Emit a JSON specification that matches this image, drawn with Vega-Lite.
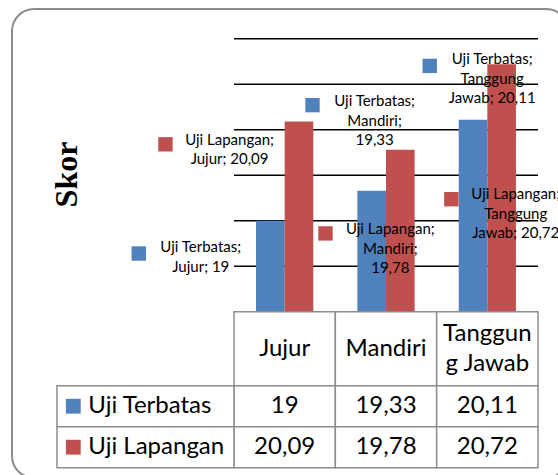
{
  "$schema": "https://vega.github.io/schema/vega-lite/v6.json",
  "width": 556,
  "height": 469,
  "autosize": {"type": "none"},
  "padding": {"left": 12, "top": 9, "right": 0, "bottom": 0},
  "background": "white",
  "config": {
    "view": {"stroke": "#8c8c8c", "strokeWidth": 2, "cornerRadius": 22, "fill": "white"},
    "locale": {"number": {"decimal": ",", "thousands": ".", "grouping": [3], "currency": ["", ""]}},
    "text": {"font": "Lato", "color": "#000000"}
  },
  "datasets": {
    "skor": [
      {"kategori": "Jujur", "seri": "Uji Terbatas", "nilai": 19, "label": "Uji Terbatas;\nJujur; 19"},
      {"kategori": "Jujur", "seri": "Uji Lapangan", "nilai": 20.09, "label": "Uji Lapangan;\nJujur; 20,09"},
      {"kategori": "Mandiri", "seri": "Uji Terbatas", "nilai": 19.33, "label": "Uji Terbatas;\nMandiri;\n19,33"},
      {"kategori": "Mandiri", "seri": "Uji Lapangan", "nilai": 19.78, "label": "Uji Lapangan;\nMandiri;\n19,78"},
      {"kategori": "Tanggung Jawab", "seri": "Uji Terbatas", "nilai": 20.11, "label": "Uji Terbatas;\nTanggung\nJawab; 20,11"},
      {"kategori": "Tanggung Jawab", "seri": "Uji Lapangan", "nilai": 20.72, "label": "Uji Lapangan;\nTanggung\nJawab; 20,72"}
    ],
    "kolom": [
      {"kategori": "Jujur", "judul": "Jujur"},
      {"kategori": "Mandiri", "judul": "Mandiri"},
      {"kategori": "Tanggung Jawab", "judul": "Tanggun\ng Jawab"}
    ],
    "grid": [{"g": 18.5}, {"g": 19}, {"g": 19.5}, {"g": 20}, {"g": 20.5}, {"g": 21}]
  },
  "resolve": {"scale": {"x": "independent", "y": "independent"}},
  "layer": [
    {
      "data": {"name": "grid"},
      "mark": {"type": "rule", "color": "#000000", "strokeWidth": 1.6},
      "encoding": {
        "y": {"field": "g", "type": "quantitative", "axis": null,
              "scale": {"domain": [18, 21], "range": [302.7, 29.7], "nice": false, "zero": false}},
        "x": {"datum": "Jujur", "type": "nominal", "bandPosition": 0, "axis": null,
              "scale": {"domain": ["Jujur", "Mandiri", "Tanggung Jawab"], "range": [222, 526], "paddingInner": 0, "paddingOuter": 0}},
        "x2": {"datum": "Tanggung Jawab", "bandPosition": 1}
      }
    },
    {
      "data": {"name": "skor"},
      "mark": {"type": "bar"},
      "encoding": {
        "x": {"field": "kategori", "type": "nominal", "axis": null,
              "scale": {"domain": ["Jujur", "Mandiri", "Tanggung Jawab"], "range": [222, 526], "paddingInner": 0, "paddingOuter": 0}},
        "xOffset": {"field": "seri", "type": "nominal",
                    "scale": {"domain": ["Uji Terbatas", "Uji Lapangan"], "paddingInner": 0, "paddingOuter": 0.77}},
        "y": {"field": "nilai", "type": "quantitative",
              "scale": {"domain": [18, 21], "range": [302.7, 29.7], "nice": false, "zero": false},
              "axis": {"title": "Skor", "labels": false, "ticks": false, "domain": false, "grid": false,
                       "titleFont": "Liberation Serif", "titleFontWeight": "bold", "titleFontSize": 32, "titleColor": "#000000",
                       "titleAngle": 270, "titleAlign": "center", "titleBaseline": "alphabetic", "titleX": 64, "titleY": 165}},
        "y2": {"datum": 18},
        "color": {"field": "seri", "type": "nominal", "legend": null,
                  "scale": {"domain": ["Uji Terbatas", "Uji Lapangan"], "range": ["#4f81bd", "#c0504d"]}}
      }
    },
    {
      "data": {"name": "skor"},
      "encoding": {
        "x": {"field": "kategori", "type": "nominal", "axis": null,
              "scale": {"domain": ["Jujur", "Mandiri", "Tanggung Jawab"], "range": [222, 526], "paddingInner": 0, "paddingOuter": 0}},
        "y": {"field": "nilai", "type": "quantitative", "axis": null,
              "scale": {"domain": [18, 21], "range": [302.7, 29.7], "nice": false, "zero": false}}
      },
      "layer": [
        {
          "transform": [{"filter": "datum.kategori === 'Jujur' && datum.seri === 'Uji Terbatas'"}],
          "mark": {"type": "text", "dx": -83.9, "dy": 26.7, "align": "center", "baseline": "middle", "lineBreak": "\n", "lineHeight": 19.5, "fontSize": 15},
          "encoding": {"text": {"field": "label"}}
        },
        {
          "transform": [{"filter": "datum.kategori === 'Jujur' && datum.seri === 'Uji Lapangan'"}],
          "mark": {"type": "text", "dx": -55.1, "dy": 18.3, "align": "center", "baseline": "middle", "lineBreak": "\n", "lineHeight": 19.5, "fontSize": 15},
          "encoding": {"text": {"field": "label"}}
        },
        {
          "transform": [{"filter": "datum.kategori === 'Mandiri' && datum.seri === 'Uji Terbatas'"}],
          "mark": {"type": "text", "dx": -11.4, "dy": -89.3, "align": "center", "baseline": "middle", "lineBreak": "\n", "lineHeight": 19.5, "fontSize": 15},
          "encoding": {"text": {"field": "label"}}
        },
        {
          "transform": [{"filter": "datum.kategori === 'Mandiri' && datum.seri === 'Uji Lapangan'"}],
          "mark": {"type": "text", "dx": 4.3, "dy": 79.7, "align": "center", "baseline": "middle", "lineBreak": "\n", "lineHeight": 19.5, "fontSize": 15},
          "encoding": {"text": {"field": "label"}}
        },
        {
          "transform": [{"filter": "datum.kategori === 'Tanggung Jawab' && datum.seri === 'Uji Terbatas'"}],
          "mark": {"type": "text", "dx": 4.8, "dy": -60.3, "align": "center", "baseline": "middle", "lineBreak": "\n", "lineHeight": 19.5, "fontSize": 15},
          "encoding": {"text": {"field": "label"}}
        },
        {
          "transform": [{"filter": "datum.kategori === 'Tanggung Jawab' && datum.seri === 'Uji Lapangan'"}],
          "mark": {"type": "text", "dx": 28.4, "dy": 130.3, "align": "center", "baseline": "middle", "lineBreak": "\n", "lineHeight": 19.5, "fontSize": 15},
          "encoding": {"text": {"field": "label"}}
        },
        {
          "transform": [{"filter": "datum.kategori === 'Jujur' && datum.seri === 'Uji Terbatas'"}],
          "mark": {"type": "point", "shape": "square", "filled": true, "opacity": 1, "size": 207, "xOffset": -145.9, "yOffset": 32.8},
          "encoding": {"color": {"field": "seri", "type": "nominal", "legend": null, "scale": {"domain": ["Uji Terbatas", "Uji Lapangan"], "range": ["#4f81bd", "#c0504d"]}}}
        },
        {
          "transform": [{"filter": "datum.kategori === 'Jujur' && datum.seri === 'Uji Lapangan'"}],
          "mark": {"type": "point", "shape": "square", "filled": true, "opacity": 1, "size": 207, "xOffset": -119.2, "yOffset": 22.8},
          "encoding": {"color": {"field": "seri", "type": "nominal", "legend": null, "scale": {"domain": ["Uji Terbatas", "Uji Lapangan"], "range": ["#4f81bd", "#c0504d"]}}}
        },
        {
          "transform": [{"filter": "datum.kategori === 'Mandiri' && datum.seri === 'Uji Terbatas'"}],
          "mark": {"type": "point", "shape": "square", "filled": true, "opacity": 1, "size": 207, "xOffset": -73.5, "yOffset": -85.5},
          "encoding": {"color": {"field": "seri", "type": "nominal", "legend": null, "scale": {"domain": ["Uji Terbatas", "Uji Lapangan"], "range": ["#4f81bd", "#c0504d"]}}}
        },
        {
          "transform": [{"filter": "datum.kategori === 'Mandiri' && datum.seri === 'Uji Lapangan'"}],
          "mark": {"type": "point", "shape": "square", "filled": true, "opacity": 1, "size": 207, "xOffset": -60.5, "yOffset": 83.7},
          "encoding": {"color": {"field": "seri", "type": "nominal", "legend": null, "scale": {"domain": ["Uji Terbatas", "Uji Lapangan"], "range": ["#4f81bd", "#c0504d"]}}}
        },
        {
          "transform": [{"filter": "datum.kategori === 'Tanggung Jawab' && datum.seri === 'Uji Terbatas'"}],
          "mark": {"type": "point", "shape": "square", "filled": true, "opacity": 1, "size": 207, "xOffset": -57.6, "yOffset": -53.8},
          "encoding": {"color": {"field": "seri", "type": "nominal", "legend": null, "scale": {"domain": ["Uji Terbatas", "Uji Lapangan"], "range": ["#4f81bd", "#c0504d"]}}}
        },
        {
          "transform": [{"filter": "datum.kategori === 'Tanggung Jawab' && datum.seri === 'Uji Lapangan'"}],
          "mark": {"type": "point", "shape": "square", "filled": true, "opacity": 1, "size": 207, "xOffset": -36, "yOffset": 135},
          "encoding": {"color": {"field": "seri", "type": "nominal", "legend": null, "scale": {"domain": ["Uji Terbatas", "Uji Lapangan"], "range": ["#4f81bd", "#c0504d"]}}}
        }
      ]
    },
    {
      "data": {"name": "kolom"},
      "encoding": {
        "x": {"field": "kategori", "type": "nominal", "axis": null,
              "scale": {"domain": ["Jujur", "Mandiri", "Tanggung Jawab"], "range": [222, 526], "paddingInner": 0, "paddingOuter": 0}},
        "y": {"datum": "h", "type": "nominal", "axis": null,
              "scale": {"domain": ["h"], "range": [302.7, 376.7], "paddingInner": 0, "paddingOuter": 0}}
      },
      "layer": [
        {"mark": {"type": "rect", "fill": "white", "stroke": "#8c8c8c", "strokeWidth": 1.5}},
        {"transform": [{"filter": "datum.kategori !== 'Tanggung Jawab'"}],
         "mark": {"type": "text", "fontSize": 24, "align": "center", "baseline": "middle"},
         "encoding": {"text": {"field": "judul"}}},
        {"transform": [{"filter": "datum.kategori === 'Tanggung Jawab'"}],
         "mark": {"type": "text", "fontSize": 24, "align": "center", "baseline": "middle", "lineBreak": "\n", "lineHeight": 30, "dy": -15},
         "encoding": {"text": {"field": "judul"}}}
      ]
    },
    {
      "data": {"name": "skor"},
      "encoding": {
        "x": {"field": "kategori", "type": "nominal", "axis": null,
              "scale": {"domain": ["Jujur", "Mandiri", "Tanggung Jawab"], "range": [222, 526], "paddingInner": 0, "paddingOuter": 0}},
        "y": {"field": "seri", "type": "nominal", "axis": null,
              "scale": {"domain": ["Uji Terbatas", "Uji Lapangan"], "range": [376.7, 458.7], "paddingInner": 0, "paddingOuter": 0}}
      },
      "layer": [
        {"mark": {"type": "rect", "fill": "white", "stroke": "#8c8c8c", "strokeWidth": 1.5}},
        {"mark": {"type": "text", "fontSize": 24, "align": "center", "baseline": "middle"},
         "encoding": {"text": {"field": "nilai", "type": "quantitative", "format": "~g"}}}
      ]
    },
    {
      "data": {"name": "skor"},
      "transform": [{"filter": "datum.kategori === 'Jujur'"}],
      "encoding": {
        "x": {"datum": "h", "type": "nominal", "axis": null,
              "scale": {"domain": ["h"], "range": [45, 222], "paddingInner": 0, "paddingOuter": 0}},
        "y": {"field": "seri", "type": "nominal", "axis": null,
              "scale": {"domain": ["Uji Terbatas", "Uji Lapangan"], "range": [376.7, 458.7], "paddingInner": 0, "paddingOuter": 0}}
      },
      "layer": [
        {"mark": {"type": "rect", "fill": "white", "stroke": "#8c8c8c", "strokeWidth": 1.5}},
        {"mark": {"type": "point", "shape": "square", "filled": true, "opacity": 1, "size": 220, "xOffset": -72.2},
         "encoding": {"color": {"field": "seri", "type": "nominal", "legend": null, "scale": {"domain": ["Uji Terbatas", "Uji Lapangan"], "range": ["#4f81bd", "#c0504d"]}}}},
        {"mark": {"type": "text", "fontSize": 24, "align": "left", "baseline": "middle", "dx": -57.2},
         "encoding": {"text": {"field": "seri"}}}
      ]
    }
  ]
}
